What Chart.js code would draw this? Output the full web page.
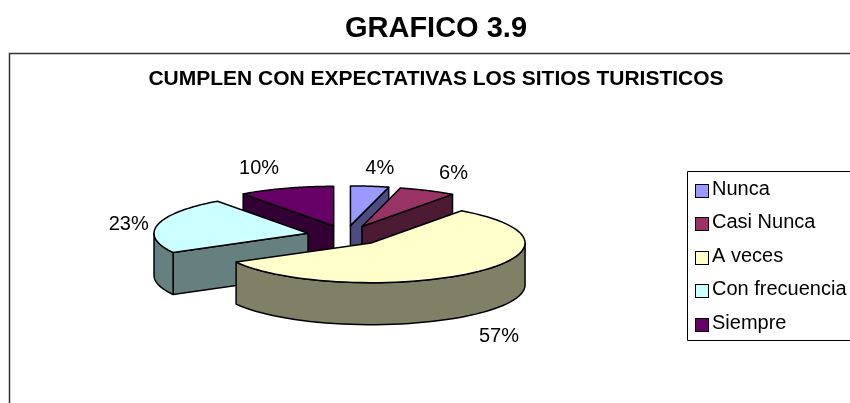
<!DOCTYPE html>
<html>
<head>
<meta charset="utf-8">
<style>html,body{margin:0;padding:0;background:#fff}canvas{display:block}</style>
<script src="https://cdn.jsdelivr.net/npm/chart.js@4"></script>
</head>
<body>
<canvas id="c" width="850" height="403"></canvas>
<script>
const categories = ['Nunca', 'Casi Nunca', 'A veces', 'Con frecuencia', 'Siempre'];
const percents = [4, 6, 57, 23, 10];
const topColors = ['#9999FF', '#993366', '#FFFFCC', '#CCFFFF', '#660066'];
const wallColors = ['#4C4C80', '#4D1A33', '#808066', '#668080', '#330033'];
const labelNudge = [[10, -18], [26, -17], [26, 22], [-29, 0], [-27, -20]];
const depthOrder = [4, 0, 1, 3, 2];
const pageTitle = 'GRAFICO 3.9';
const chartTitle = 'CUMPLEN CON EXPECTATIVAS LOS SITIOS TURISTICOS';

const FONT = '"Liberation Sans", Arial, sans-serif';
const PIE = { cx: 345.6, cy: 235.5, tilt: 0.258, depth: 42, explode: 38.5 };
const LEGEND = { boxLeft: 687, top: 171, bottom: 340, firstRow: 189.5, step: 33.4, fontSize: 20, textX: 712, swatchX: 695, swatch: 13 };
const LEGEND_PAD = LEGEND.step - LEGEND.fontSize;

function shift(el) {
  const mid = (el.startAngle + el.endAngle) / 2;
  return [Math.cos(mid) * PIE.explode, Math.sin(mid) * PIE.explode];
}
function project(el, a) {
  const s = shift(el);
  return [PIE.cx + s[0] + Math.cos(a) * el.outerRadius,
          PIE.cy + (s[1] + Math.sin(a) * el.outerRadius) * PIE.tilt];
}
function apex(el) {
  const s = shift(el);
  return [PIE.cx + s[0], PIE.cy + s[1] * PIE.tilt];
}
function wall(ctx, a, b, color) {
  ctx.beginPath();
  ctx.moveTo(a[0], a[1]);
  ctx.lineTo(b[0], b[1]);
  ctx.lineTo(b[0], b[1] + PIE.depth);
  ctx.lineTo(a[0], a[1] + PIE.depth);
  ctx.closePath();
  ctx.fillStyle = color;
  ctx.fill();
  ctx.stroke();
}
function rim(ctx, el, from, to, color) {
  const n = 48, pts = [];
  for (let i = 0; i <= n; i++) pts.push(project(el, from + (to - from) * i / n));
  ctx.beginPath();
  pts.forEach((p, i) => i ? ctx.lineTo(p[0], p[1]) : ctx.moveTo(p[0], p[1]));
  pts.slice().reverse().forEach(p => ctx.lineTo(p[0], p[1] + PIE.depth));
  ctx.closePath();
  ctx.fillStyle = color;
  ctx.fill();
  ctx.stroke();
}

const pie3d = {
  id: 'pie3d',
  afterLayout(chart) {
    const l = chart.legend;
    l.left = LEGEND.textX - LEGEND.fontSize / 2 - LEGEND.swatch - LEGEND_PAD;
    l.top = LEGEND.firstRow - LEGEND.fontSize / 2 - LEGEND_PAD;
    l.bottom = 600;
  },
  beforeDraw(chart) {
    const ctx = chart.ctx;
    ctx.save();
    ctx.strokeStyle = '#333';
    ctx.lineWidth = 1.5;
    ctx.beginPath();
    ctx.moveTo(9.5, 403);
    ctx.lineTo(9.5, 53.5);
    ctx.lineTo(850, 53.5);
    ctx.stroke();
    ctx.strokeStyle = '#000';
    ctx.lineWidth = 1;
    ctx.beginPath();
    ctx.moveTo(850, LEGEND.top + 0.5);
    ctx.lineTo(LEGEND.boxLeft + 0.5, LEGEND.top + 0.5);
    ctx.lineTo(LEGEND.boxLeft + 0.5, LEGEND.bottom + 0.5);
    ctx.lineTo(850, LEGEND.bottom + 0.5);
    ctx.stroke();
    ctx.restore();
  },
  beforeDatasetDraw(chart) {
    const ctx = chart.ctx;
    const els = chart.getDatasetMeta(0).data;
    ctx.save();
    ctx.strokeStyle = '#000';
    ctx.lineWidth = 1.5;
    ctx.lineJoin = 'round';
    depthOrder.forEach(i => {
      const el = els[i];
      const s = el.startAngle, e = el.endAngle;
      const c = wallColors[i];
      if (Math.cos(s) < -1e-6) wall(ctx, apex(el), project(el, s), c);
      if (Math.cos(e) > 1e-6) wall(ctx, apex(el), project(el, e), c);
      const from = Math.max(s, 0), to = Math.min(e, Math.PI);
      if (to > from) rim(ctx, el, from, to, c);
    });
    els.forEach(el => {
      const s = shift(el);
      ctx.save();
      ctx.translate(PIE.cx + s[0], PIE.cy + s[1] * PIE.tilt);
      ctx.scale(1, PIE.tilt);
      ctx.translate(-el.x, -el.y);
      el.draw(ctx);
      ctx.restore();
      const a = apex(el);
      ctx.beginPath();
      ctx.moveTo(a[0], a[1]);
      const n = 64;
      for (let i = 0; i <= n; i++) {
        const p = project(el, el.startAngle + (el.endAngle - el.startAngle) * i / n);
        ctx.lineTo(p[0], p[1]);
      }
      ctx.closePath();
      ctx.stroke();
    });
    ctx.fillStyle = '#000';
    ctx.font = '20px ' + FONT;
    ctx.textAlign = 'center';
    ctx.textBaseline = 'middle';
    els.forEach((el, i) => {
      const mid = (el.startAngle + el.endAngle) / 2;
      const p = project(el, mid);
      const lower = Math.sin(mid) > 0 ? PIE.depth : 0;
      ctx.fillText(percents[i] + '%', p[0] + labelNudge[i][0], p[1] + lower + labelNudge[i][1]);
    });
    ctx.restore();
    return false;
  },
  afterDraw(chart) {
    const ctx = chart.ctx;
    ctx.save();
    ctx.strokeStyle = '#000';
    ctx.lineWidth = 1;
    categories.forEach((t, i) => {
      const y = Math.round(LEGEND.firstRow + i * LEGEND.step + 1 - LEGEND.swatch / 2);
      ctx.fillStyle = topColors[i];
      ctx.fillRect(LEGEND.swatchX + 0.5, y + 0.5, LEGEND.swatch, LEGEND.swatch);
      ctx.strokeRect(LEGEND.swatchX + 0.5, y + 0.5, LEGEND.swatch, LEGEND.swatch);
    });
    ctx.restore();
  }
};

new Chart(document.getElementById('c'), {
  type: 'pie',
  plugins: [pie3d],
  data: {
    labels: categories,
    datasets: [{
      data: percents,
      backgroundColor: topColors,
      borderWidth: 0,
      radius: 154
    }]
  },
  options: {
    responsive: false,
    animation: false,
    layout: { padding: { left: 22, top: 0, right: 0, bottom: 0 } },
    plugins: {
      tooltip: { enabled: false },
      title: {
        display: true,
        text: pageTitle,
        color: '#000',
        font: { family: FONT, size: 29, weight: 'bold', lineHeight: 1.2 },
        padding: { top: 11.5, bottom: 0 }
      },
      subtitle: {
        display: true,
        text: chartTitle,
        color: '#000',
        font: { family: FONT, size: 21, weight: 'bold', lineHeight: 1.2 },
        padding: { top: 20, bottom: 10 }
      },
      legend: {
        position: 'right',
        align: 'start',
        labels: {
          color: '#000',
          boxWidth: LEGEND.swatch,
          boxHeight: LEGEND.swatch,
          padding: LEGEND_PAD,
          font: { family: FONT, size: LEGEND.fontSize },
          generateLabels() {
            return categories.map((t, i) => ({
              text: t,
              fillStyle: 'rgba(0,0,0,0)',
              strokeStyle: 'rgba(0,0,0,0)',
              lineWidth: 0,
              index: i
            }));
          }
        }
      }
    }
  }
});
</script>
</body>
</html>
